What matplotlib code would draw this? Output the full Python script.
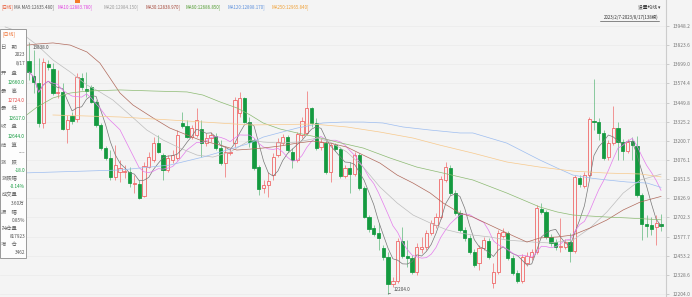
import numpy as np
import pandas as pd
import matplotlib
matplotlib.use("Agg")
import matplotlib.pyplot as plt
from matplotlib.patches import Rectangle

plt.rcParams['font.family'] = ['Noto Sans CJK SC', 'DejaVu Sans']

W, H = 692, 297
BG = '#f4f4f4'
UP = '#f05c5c'
DOWN = '#149a3f'

# daily candles, 2023 (visible part)
opens = [13720, 13623, 13577, 13317, 13701, 13668, 13512, 13519, 13278, 13363,
         13343, 13610, 13538, 13551, 13454, 13304, 13154, 13089, 12965, 12998,
         12998, 12998, 12920, 12920, 12842, 13030, 13076, 13186, 13108, 13011,
         13076, 13089, 13317, 13297, 13225, 13239, 13278, 13186, 13219, 13232,
         13154, 13056, 13121, 13186, 13382, 13480, 13323, 13206, 13030, 12894,
         12913, 12978, 13108, 13186, 13225, 13128, 13076, 13239, 13252, 13415,
         13317, 13160, 13186, 12998, 13173, 13147, 12972, 13024, 12985, 13108,
         12894, 12705, 12634, 12601, 12503, 12444, 12269, 12288, 12549, 12451,
         12438, 12347, 12497, 12510, 12601, 12653, 12705, 12946, 13024, 12861,
         12731, 12621, 12569, 12477, 12405, 12503, 12549, 12275, 12347, 12582,
         12601, 12438, 12340, 12288, 12405, 12444, 12477, 12757, 12738, 12575,
         12542, 12510, 12510, 12542, 12484, 12959, 12907, 12978, 13330, 13323,
         13252, 13095, 13186, 13284, 13193, 13134, 13199, 13167, 12848, 12660,
         12653, 12640, 12660]
highs = [13838, 13792, 13740, 13740, 13727, 13707, 13662, 13577, 13369, 13389,
         13642, 13642, 13649, 13564, 13467, 13317, 13167, 13141, 13173, 13076,
         13043, 13030, 12978, 12946, 13063, 13128, 13225, 13239, 13121, 13108,
         13141, 13271, 13389, 13336, 13304, 13415, 13336, 13252, 13258, 13252,
         13206, 13160, 13154, 13486, 13519, 13486, 13356, 13219, 13043, 12946,
         12998, 13121, 13219, 13245, 13239, 13154, 13258, 13356, 13525, 13421,
         13350, 13219, 13206, 13186, 13186, 13160, 13043, 13063, 13128, 13121,
         12907, 12718, 12653, 12666, 12523, 12477, 12314, 12569, 12640, 12555,
         12458, 12536, 12575, 12621, 12686, 12731, 12972, 13063, 13043, 12881,
         12751, 12640, 12588, 12497, 12523, 12575, 12569, 12405, 12621, 12634,
         12614, 12458, 12360, 12464, 12477, 12497, 12783, 12796, 12751, 12595,
         12562, 12699, 12562, 12601, 12978, 12978, 12998, 13356, 13603, 13350,
         13271, 13206, 13428, 13323, 13212, 13212, 13225, 13232, 12861, 12718,
         12705, 12718, 12724]
lows = [13597, 13512, 13291, 13284, 13662, 13499, 13480, 13271, 13186, 13310,
        13323, 13532, 13486, 13447, 13291, 13141, 13076, 12946, 12946, 12933,
        12959, 12900, 12861, 12822, 12835, 13024, 13063, 13121, 12946, 12998,
        13056, 13076, 13284, 13219, 13212, 13225, 13095, 13167, 13193, 13141,
        13043, 12965, 13108, 13160, 13356, 13317, 13160, 13011, 12848, 12861,
        12835, 12946, 13095, 13173, 13128, 13024, 13063, 13219, 13239, 13291,
        13141, 13141, 12985, 12933, 13134, 12959, 12959, 12861, 12972, 12881,
        12699, 12608, 12582, 12490, 12425, 12204, 12249, 12275, 12438, 12379,
        12334, 12327, 12471, 12490, 12588, 12634, 12692, 12933, 12848, 12718,
        12608, 12549, 12464, 12379, 12360, 12490, 12431, 12243, 12334, 12569,
        12425, 12327, 12275, 12275, 12386, 12425, 12464, 12725, 12562, 12516,
        12490, 12477, 12497, 12412, 12471, 12900, 12894, 12965, 13271, 13206,
        13076, 13076, 13173, 13076, 13076, 13121, 13076, 12835, 12555, 12575,
        12588, 12523, 12617]
closes = [13649, 13584, 13317, 13714, 13681, 13512, 13519, 13278, 13336, 13330,
          13616, 13551, 13525, 13454, 13304, 13154, 13089, 12965, 13043, 13024,
          13004, 12926, 12926, 12829, 13037, 13095, 13186, 13128, 13011, 13089,
          13108, 13239, 13297, 13225, 13284, 13336, 13186, 13219, 13239, 13154,
          13056, 13128, 13128, 13467, 13480, 13323, 13193, 13024, 12887, 12913,
          12939, 13095, 13193, 13225, 13141, 13076, 13245, 13330, 13415, 13317,
          13154, 13193, 12998, 13173, 13147, 12972, 13024, 12985, 13108, 12894,
          12705, 12627, 12595, 12569, 12444, 12269, 12288, 12549, 12451, 12438,
          12347, 12510, 12510, 12601, 12666, 12705, 12952, 13030, 12861, 12731,
          12621, 12569, 12477, 12392, 12503, 12555, 12444, 12347, 12601, 12608,
          12438, 12340, 12288, 12444, 12451, 12477, 12764, 12738, 12575, 12536,
          12510, 12516, 12542, 12484, 12965, 12920, 12978, 13343, 13323, 13252,
          13089, 13186, 13284, 13193, 13134, 13193, 13173, 12848, 12660, 12647,
          12627, 12666, 12644]

# longer moving averages (candle index, value)
ma20_x = [-5.0, -1.9, 1.7, 5.0, 8.6, 12.1, 14.8, 17.5, 21.1, 24.6, 28.0, 31.5, 35.1, 38.4,
          42.0, 46.2, 48.9, 52.4, 56.0, 60.2, 62.9, 66.4, 69.8, 73.3, 76.9, 80.2, 83.8,
          87.3, 90.0, 92.7, 96.3, 99.8, 105.3, 108.8, 113.6, 117.2, 120.7, 124.1, 127.7, 132]
ma20_v = [13942, 13909, 13824, 13727, 13649, 13564, 13519, 13467, 13369, 13271, 13206, 13154,
          13108, 13095, 13128, 13206, 13193, 13186, 13193, 13219, 13193, 13128, 13030, 12900,
          12796, 12718, 12666, 12621, 12601, 12588, 12575, 12555, 12542, 12536, 12555, 12634,
          12738, 12861, 12946, 12984]
ma30_x = [-1.9, 1.7, 5.0, 8.6, 12.1, 14.8, 16.9, 19.0, 21.7, 25.9, 29.4, 33.0, 35.7, 39.9,
          43.4, 46.2, 48.9, 52.4, 56.0, 59.3, 62.9, 66.4, 69.8, 73.3, 76.9, 80.2, 83.8, 86.5,
          90.0, 92.7, 99.8, 104.0, 106.7, 110.3, 113.6, 117.2, 120.7, 124.1, 127.7, 132]
ma30_v = [13818, 13831, 13838, 13824, 13779, 13707, 13610, 13512, 13434, 13350, 13284, 13239,
          13206, 13173, 13141, 13147, 13154, 13167, 13186, 13199, 13186, 13160, 13108, 13056,
          12978, 12926, 12861, 12796, 12731, 12705, 12601, 12542, 12569, 12575, 12588, 12634,
          12686, 12751, 12803, 12839]
ma60_x = [-1.9, 1.7, 5.0, 8.6, 12.1, 19.0, 25.9, 33.0, 36.3, 39.9, 43.4, 46.2, 48.9, 52.4,
          56.0, 60.2, 64.3, 69.8, 75.4, 81.0, 86.5, 92.7, 99.8, 106.7, 110.3, 113.6, 120.7,
          124.9, 132]
ma60_v = [13336, 13421, 13480, 13512, 13525, 13532, 13525, 13519, 13499, 13454, 13415, 13369,
          13317, 13278, 13252, 13225, 13193, 13154, 13089, 13030, 12991, 12946, 12861, 12770,
          12738, 12718, 12705, 12699, 12687]
ma120_x = [-1.9, 19.0, 29.4, 36.3, 41.4, 46.2, 48.9, 56.0, 61.4, 65.6, 69.8, 73.9, 78.1,
           83.8, 90.0, 92.7, 99.8, 106.7, 110.3, 113.6, 117.2, 120.7, 124.9, 129.1, 132]
ma120_v = [12991, 13011, 13043, 13095, 13141, 13186, 13225, 13284, 13317, 13323, 13323, 13317,
           13291, 13271, 13252, 13252, 13186, 13076, 13024, 12978, 12959, 12946, 12933, 12926,
           12898]
ma250_x = [5.0, 19.0, 33.0, 46.2, 59.3, 66.4, 73.3, 80.2, 85.8, 92.7, 99.8, 106.7, 113.6,
           120.7, 127.7, 132]
ma250_v = [13369, 13356, 13330, 13304, 13310, 13291, 13258, 13219, 13173, 13121, 13063, 13030,
           13004, 12991, 12985, 12966]

tick_labels = ['12204.0', '12328.6', '12453.2', '12577.7', '12702.3', '12826.9', '12951.5',
               '13076.1', '13200.7', '13325.2', '13449.8', '13574.4', '13699.0', '13823.6',
               '13948.2']

legend_items = [('MA MA5:12635.480]', '#555555', 14),
                ('MA10:12883.780]', '#e040e0', 57),
                ('MA20:12984.150]', '#9a9a9a', 103),
                ('MA30:12838.970]', '#a5483a', 145),
                ('MA60:12686.850]', '#4e9a2e', 186),
                ('MA120:12898.170]', '#5b8fdc', 228),
                ('MA250:12965.840]', '#f0a035', 271)]

panel_rows = [('日　期', None, 47), ('2023', '#555555', 55), ('8/17', '#555555', 64),
              ('开　盘', None, 73), ('12660.0', DOWN, 82),
              ('最　高', None, 91), ('12724.0', '#e84545', 100),
              ('最　低', None, 109), ('12617.0', DOWN, 118),
              ('收　盘', None, 127), ('12644.0', DOWN, 136),
              ('结　算', None, 145), ('----', '#555555', 153),
              ('涨　跌', None, 162), ('-18.0', DOWN, 170),
              ('涨跌幅', None, 178), ('-0.14%', DOWN, 186),
              ('成交量', None, 195), ('3.60万', '#555555', 203),
              ('振　幅', None, 212), ('0.85%', '#555555', 220),
              ('持仓量', None, 228), ('817923', '#555555', 236),
              ('增　仓', None, 244), ('3462', '#555555', 252)]

df = pd.DataFrame({'open': opens, 'high': highs, 'low': lows, 'close': closes})
df['ma5'] = df['close'].rolling(5, min_periods=1).mean()
df['ma10'] = df['close'].rolling(10, min_periods=1).mean()

fig = plt.figure(figsize=(W / 100, H / 100), dpi=100, facecolor=BG)
ax = fig.add_axes([0, 0, 666 / W, 1], facecolor=BG)
ax.set_xlim(-6.06, 133.04)
ax.set_ylim(12184.5, 14117.35)

bw = 0.68
for i, r in df.iterrows():
    up = r.close >= r.open
    col = UP if up else DOWN
    ax.vlines(i, r.low, r.high, color=col, lw=0.55, alpha=0.8 if up else 0.6, zorder=2)
    lo, hi = min(r.open, r.close), max(r.open, r.close)
    ax.add_patch(Rectangle((i - bw / 2, lo), bw, max(hi - lo, 3),
                           facecolor=BG if up else DOWN, edgecolor=col, lw=0.55, zorder=2.5))

idx = np.arange(len(df))
ax.plot(idx, df['ma5'], color='#777777', lw=0.5, zorder=3)
ax.plot(idx, df['ma10'], color='#e47cec', lw=0.5, zorder=3)
ax.plot(ma20_x, ma20_v, color='#bdbdbd', lw=0.5, zorder=3)
ax.plot(ma30_x, ma30_v, color='#b06a5c', lw=0.5, zorder=3)
ax.plot(ma60_x, ma60_v, color='#8cba72', lw=0.5, zorder=3)
ax.plot(ma120_x, ma120_v, color='#9dbdf0', lw=0.5, zorder=3)
ax.plot(ma250_x, ma250_v, color='#f7c98c', lw=0.5, zorder=3)

# max / min markers
ax.annotate('13838.0', xy=(0, 13838), xytext=(0.7, 13805), fontsize=3.3, color='#444444',
            va='center', arrowprops=dict(arrowstyle='-', lw=0.4, color='#444444'))
ax.annotate('12204.0', xy=(75, 12204), xytext=(76.1, 12231), fontsize=3.3, color='#444444',
            va='center', arrowprops=dict(arrowstyle='-', lw=0.4, color='#444444'))

ax.yaxis.tick_right()
ax.set_yticks([float(t) for t in tick_labels])
ax.set_yticklabels(tick_labels)
ax.tick_params(axis='y', direction='out', length=2.5, width=0.5, color='#bbbbbb',
               labelsize=3.5, labelcolor='#777777', pad=2)
ax.set_xticks([])
ax.grid(axis='y', color='#eaeaea', lw=0.5, zorder=0)
for s in ['top', 'left', 'bottom']:
    ax.spines[s].set_visible(False)
ax.spines['right'].set_color('#cccccc')
ax.spines['right'].set_linewidth(0.8)


def ftext(x, y, s, **kw):
    fig.text(x / W, 1 - y / H, s, va='center', **kw)


# top legend row
ftext(1, 7, '[日线]', fontsize=3.2, color='#e8502a')
for label, col, x in legend_items:
    ftext(x, 7, label, fontsize=3.2, color=col)
fig.patches.append(Rectangle((75 / W, 1 - 3 / H), 5 / W, 3 / H, transform=fig.transFigure,
                             facecolor='#f47a2a', edgecolor='none'))

# top right
ftext(660, 7, '设置均线 ▾', fontsize=3.4, color='#333333', ha='right')
ftext(659, 17, '2023/2/7-2023/8/17(138根)', fontsize=3.2, color='#333333', ha='right')
fig.lines.append(plt.Line2D([600 / W, 659 / W], [1 - 20.5 / H, 1 - 20.5 / H],
                            transform=fig.transFigure, color='#333333', lw=0.4))

# info panel
fig.patches.append(Rectangle((0, 1 - 258 / H), 26 / W, 229 / H, transform=fig.transFigure,
                             facecolor='#fdfdfd', edgecolor='#9a9a9a', lw=0.7, zorder=5))
ftext(3, 34, '[日线]', fontsize=3.5, color='#f07030', zorder=6)
for label, col, y in panel_rows:
    if col is None:
        ftext(1.5, y, label, fontsize=3.8, color='#666666', zorder=6)
    else:
        ftext(25, y, label, fontsize=3.4, color=col, ha='right', zorder=6)

fig.savefig('out.png', dpi=100, facecolor=BG)
